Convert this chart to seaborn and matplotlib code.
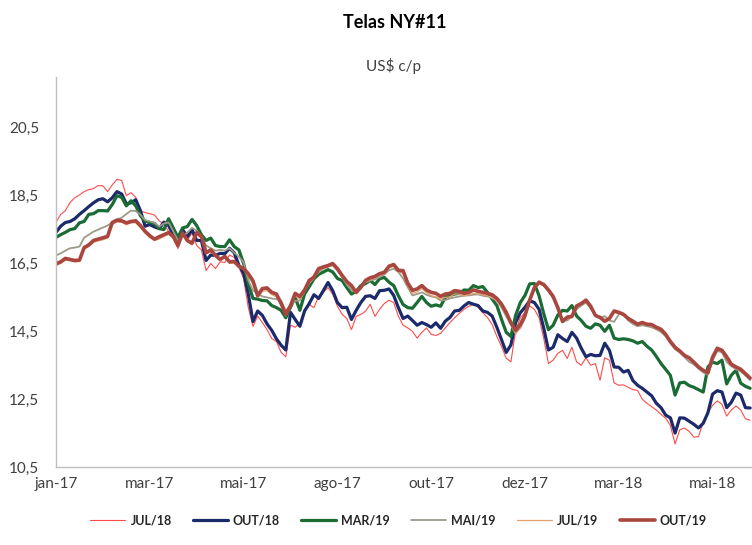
import numpy as np
import seaborn as sns
import matplotlib.pyplot as plt

# values, one point every ~2-3 trading days
tick_labels = ["jan-17", "mar-17", "mai-17", "ago-17", "out-17", "dez-17", "mar-18", "mai-18"]
y_ticks = [10.5, 12.5, 14.5, 16.5, 18.5, 20.5]
y_tick_labels = ["10,5", "12,5", "14,5", "16,5", "18,5", "20,5"]

jul18 = [17.71, 17.95, 18.06, 18.30, 18.44, 18.52, 18.62, 18.68, 18.71, 18.80,
         18.79, 18.62, 18.82, 18.98, 18.95, 18.50, 18.59, 18.45, 18.06, 18.00,
         17.97, 17.93, 17.76, 17.65, 17.45, 17.30, 16.94, 17.45, 17.18, 17.40,
         17.03, 16.90, 16.29, 16.50, 16.35, 16.55, 16.53, 16.75, 16.68, 16.40,
         16.06, 15.20, 14.65, 14.95, 14.76, 14.55, 14.29, 14.20, 13.88, 13.75,
         14.68, 14.62, 14.74, 15.15, 15.29, 15.20, 15.53, 15.65, 15.79, 15.60,
         15.24, 15.00, 14.88, 14.55, 14.94, 15.00, 15.09, 15.30, 14.94, 15.15,
         15.32, 15.42, 15.35, 14.95, 14.68, 14.60, 14.50, 14.30, 14.47, 14.60,
         14.41, 14.38, 14.44, 14.60, 14.76, 14.90, 15.03, 15.15, 15.24, 15.30,
         15.21, 15.05, 14.91, 14.70, 14.35, 14.05, 13.71, 13.60, 14.53, 14.90,
         15.06, 15.25, 15.15, 14.90, 14.29, 13.55, 13.65, 13.85, 13.94, 13.70,
         14.03, 13.60, 13.50, 13.72, 13.50, 13.55, 13.06, 13.72, 13.65, 12.98,
         12.91, 12.92, 12.85, 12.78, 12.76, 12.50, 12.38, 12.28, 12.18, 12.05,
         11.94, 11.72, 11.18, 11.60, 11.65, 11.55, 11.38, 11.40, 11.82, 12.10,
         12.32, 12.45, 12.35, 12.00, 12.18, 12.30, 12.18, 11.92, 11.88]

out18 = [17.42, 17.60, 17.71, 17.74, 17.82, 17.95, 18.06, 18.18, 18.29, 18.38,
         18.41, 18.32, 18.44, 18.62, 18.55, 18.26, 18.29, 18.38, 18.06, 17.60,
         17.65, 17.58, 17.53, 17.72, 17.62, 17.35, 17.08, 17.50, 17.29, 17.50,
         17.18, 17.18, 16.59, 16.75, 16.74, 16.80, 16.79, 16.95, 16.82, 16.45,
         16.21, 15.60, 14.79, 15.10, 14.97, 14.72, 14.53, 14.28, 14.09, 13.95,
         15.06, 14.85, 14.65, 15.10, 15.32, 15.58, 15.47, 15.70, 15.94, 15.70,
         15.35, 15.20, 15.21, 14.85, 15.12, 15.35, 15.53, 15.55, 15.47, 15.70,
         15.71, 15.75, 15.56, 15.20, 14.88, 14.95, 14.82, 14.68, 14.76, 14.70,
         14.62, 14.75, 14.59, 14.80, 14.91, 15.10, 15.12, 15.25, 15.35, 15.30,
         15.26, 15.10, 15.06, 14.95, 14.62, 14.25, 13.88, 14.10, 14.76, 15.05,
         15.21, 15.40, 15.35, 15.15, 14.59, 13.95, 14.03, 14.40, 14.29, 14.20,
         14.47, 14.30, 14.00, 13.75, 13.82, 13.78, 13.79, 14.15, 13.94, 13.45,
         13.44, 13.30, 13.35, 13.05, 12.91, 12.82, 12.71, 12.60, 12.38, 12.25,
         12.03, 11.95, 11.50, 11.95, 11.94, 11.85, 11.76, 11.65, 11.79, 12.10,
         12.65, 12.75, 12.71, 12.25, 12.41, 12.68, 12.62, 12.25, 12.24]

mar19 = [17.27, 17.35, 17.42, 17.50, 17.53, 17.70, 17.74, 17.95, 17.97, 18.06,
         18.06, 18.05, 18.24, 18.50, 18.45, 18.20, 18.35, 18.20, 17.91, 17.75,
         17.71, 17.68, 17.53, 17.50, 17.82, 17.55, 17.27, 17.55, 17.59, 17.80,
         17.62, 17.35, 17.18, 17.25, 17.03, 17.00, 17.00, 17.20, 17.00, 16.90,
         16.50, 15.90, 15.47, 15.45, 15.41, 15.40, 15.26, 15.20, 15.12, 14.90,
         15.21, 15.50, 15.12, 15.60, 15.82, 16.05, 16.18, 16.25, 16.32, 16.25,
         16.06, 16.00, 15.79, 15.60, 15.68, 15.85, 15.91, 16.00, 15.88, 16.05,
         16.09, 15.95, 15.85, 15.55, 15.29, 15.20, 15.18, 15.35, 15.53, 15.35,
         15.24, 15.28, 15.24, 15.50, 15.56, 15.60, 15.62, 15.72, 15.71, 15.85,
         15.79, 15.82, 15.65, 15.45, 15.26, 14.85, 14.47, 14.35, 14.97, 15.35,
         15.56, 15.90, 15.91, 15.55, 15.02, 14.55, 14.68, 14.98, 15.12, 15.10,
         15.26, 14.95, 14.82, 14.65, 14.59, 14.72, 14.68, 14.50, 14.68, 14.30,
         14.26, 14.28, 14.26, 14.22, 14.15, 14.20, 14.06, 13.95, 13.76, 13.55,
         13.38, 13.20, 12.62, 12.98, 13.00, 12.90, 12.85, 12.78, 12.71, 13.45,
         13.59, 13.55, 13.65, 12.95, 13.21, 13.35, 12.97, 12.88, 12.82]

mai19 = [16.74, 16.80, 16.88, 16.95, 16.97, 17.00, 17.26, 17.35, 17.44, 17.50,
         17.56, 17.62, 17.71, 17.80, 17.85, 17.96, 18.06, 18.05, 17.94, 17.78,
         17.74, 17.70, 17.59, 17.68, 17.71, 17.45, 17.18, 17.30, 17.41, 17.55,
         17.47, 17.30, 17.03, 16.95, 16.88, 16.90, 16.88, 16.95, 16.82, 16.70,
         16.53, 16.00, 15.71, 15.60, 15.53, 15.50, 15.47, 15.45, 15.41, 15.10,
         15.26, 15.40, 15.41, 15.70, 15.91, 16.10, 16.24, 16.35, 16.41, 16.45,
         16.29, 16.10, 15.88, 15.72, 15.65, 15.80, 15.94, 16.00, 16.03, 16.10,
         16.18, 16.30, 16.35, 16.25, 16.06, 15.80, 15.56, 15.60, 15.65, 15.58,
         15.53, 15.50, 15.41, 15.42, 15.47, 15.50, 15.53, 15.55, 15.56, 15.58,
         15.59, 15.55, 15.53, 15.48, 15.41, 15.20, 14.94, 14.72, 14.47, 14.60,
         14.88, 15.42, 15.76, 15.92, 15.85, 15.68, 15.47, 15.15, 14.82, 14.82,
         14.94, 15.15, 15.26, 15.35, 15.18, 14.98, 14.88, 14.95, 14.82, 14.78,
         15.00, 15.02, 14.82, 14.72, 14.65, 14.68, 14.65, 14.62, 14.56, 14.48,
         14.35, 14.15, 13.97, 13.88, 13.74, 13.60, 13.53, 13.40, 13.29, 13.22,
         13.65, 13.92, 13.88, 13.60, 13.47, 13.38, 13.32, 13.20, 13.06]

jul19 = [16.45, 16.50, 16.60, 16.58, 16.55, 16.56, 16.92, 17.00, 17.12, 17.17,
         17.20, 17.25, 17.66, 17.72, 17.72, 17.64, 17.70, 17.70, 17.56, 17.40,
         17.26, 17.18, 17.22, 17.30, 17.36, 17.25, 17.00, 17.35, 17.14, 17.05,
         17.36, 17.25, 16.78, 16.85, 16.70, 16.58, 16.68, 16.50, 16.52, 16.38,
         16.33, 16.12, 15.90, 15.50, 15.68, 15.70, 15.58, 15.52, 15.30, 14.95,
         15.20, 15.55, 15.45, 15.66, 15.93, 16.05, 16.30, 16.35, 16.40, 16.45,
         16.30, 16.10, 15.92, 15.80, 15.60, 15.75, 15.95, 16.02, 16.08, 16.15,
         16.20, 16.38, 16.42, 16.25, 16.22, 15.85, 15.62, 15.66, 15.76, 15.64,
         15.55, 15.52, 15.45, 15.50, 15.52, 15.60, 15.60, 15.55, 15.58, 15.62,
         15.60, 15.58, 15.55, 15.50, 15.40, 15.22, 14.98, 14.68, 14.42, 14.62,
         14.90, 15.36, 15.75, 15.90, 15.84, 15.68, 15.50, 15.16, 14.76, 14.88,
         14.90, 15.20, 15.28, 15.38, 15.20, 14.94, 14.88, 14.77, 14.85, 15.06,
         15.02, 14.97, 14.85, 14.77, 14.68, 14.72, 14.68, 14.67, 14.59, 14.53,
         14.38, 14.17, 14.00, 13.90, 13.76, 13.70, 13.56, 13.42, 13.32, 13.25,
         13.70, 13.96, 13.90, 13.72, 13.50, 13.42, 13.35, 13.22, 13.10]

out19 = [16.49, 16.55, 16.65, 16.62, 16.59, 16.60, 16.97, 17.05, 17.18, 17.22,
         17.26, 17.30, 17.71, 17.78, 17.76, 17.70, 17.74, 17.76, 17.62, 17.45,
         17.32, 17.22, 17.29, 17.35, 17.41, 17.30, 17.03, 17.40, 17.18, 17.10,
         17.41, 17.30, 16.82, 16.90, 16.74, 16.62, 16.71, 16.55, 16.56, 16.42,
         16.35, 16.20, 15.99, 15.55, 15.76, 15.78, 15.65, 15.60, 15.32, 15.00,
         15.26, 15.62, 15.53, 15.72, 16.00, 16.10, 16.35, 16.40, 16.44, 16.50,
         16.35, 16.15, 15.97, 15.85, 15.65, 15.80, 16.00, 16.08, 16.12, 16.20,
         16.24, 16.42, 16.47, 16.30, 16.29, 15.92, 15.71, 15.75, 15.85, 15.72,
         15.65, 15.62, 15.53, 15.60, 15.62, 15.70, 15.68, 15.62, 15.65, 15.72,
         15.68, 15.65, 15.62, 15.58, 15.47, 15.30, 15.06, 14.75, 14.53, 14.70,
         14.97, 15.42, 15.79, 15.95, 15.88, 15.72, 15.53, 15.20, 14.79, 14.92,
         14.94, 15.25, 15.32, 15.42, 15.24, 14.97, 14.91, 14.80, 14.88, 15.10,
         15.06, 15.00, 14.88, 14.80, 14.71, 14.76, 14.71, 14.70, 14.62, 14.56,
         14.41, 14.20, 14.03, 13.92, 13.79, 13.72, 13.59, 13.45, 13.35, 13.28,
         13.74, 14.00, 13.94, 13.75, 13.53, 13.45, 13.38, 13.25, 13.12]

series = [("JUL/18", jul18, "#FF4B4B", 0.8),
          ("OUT/18", out18, "#1B2A6B", 2.3),
          ("MAR/19", mar19, "#1A6B34", 2.3),
          ("MAI/19", mai19, "#9C9A88", 1.3),
          ("JUL/19", jul19, "#E6A06E", 0.9),
          ("OUT/19", out19, "#A8463F", 2.6)]

sns.set_style("white")
plt.rcParams["font.family"] = ["Lato", "DejaVu Sans"]

fig = plt.figure(figsize=(7.52, 5.45), dpi=100)
ax = fig.add_axes([56 / 752, 1 - 467 / 545, 1 - 56 / 752, (467 - 77) / 545])

for name, vals, col, lw in series:
    sns.lineplot(x=np.arange(len(vals)), y=vals, ax=ax, color=col,
                 linewidth=lw, label=name)

ax.set_xlim(0, 148.4)
ax.set_ylim(10.5, 22)
ax.set_yticks(y_ticks)
ax.set_yticklabels(y_tick_labels)
ax.set_xticks(np.arange(len(tick_labels)) * 20)
ax.set_xticklabels(tick_labels)
ax.tick_params(axis="both", length=0, labelsize=11, labelcolor="#404040")
ax.tick_params(axis="y", pad=12)
ax.tick_params(axis="x", pad=7)
ax.set_xlabel("")
ax.set_ylabel("")
sns.despine(ax=ax)
for s in ["left", "bottom"]:
    ax.spines[s].set_color("#BFBFBF")
    ax.spines[s].set_linewidth(1)

ax.get_legend().remove()
handles, labels = ax.get_legend_handles_labels()
fig.legend(handles, labels, loc="center", bbox_to_anchor=(0.53, 0.045), ncol=6,
           frameon=False, prop={"weight": "bold", "size": 9},
           handlelength=2.8, handletextpad=0.4, columnspacing=1.7)

fig.text(0.525, 1 - 22 / 545, "Telas NY#11", ha="center", va="center",
         fontsize=13, fontweight="bold", color="#000000")
fig.text(0.523, 1 - 66 / 545, "US$ c/p", ha="center", va="center",
         fontsize=11, color="#404040")

fig.savefig("out.png", dpi=100)
